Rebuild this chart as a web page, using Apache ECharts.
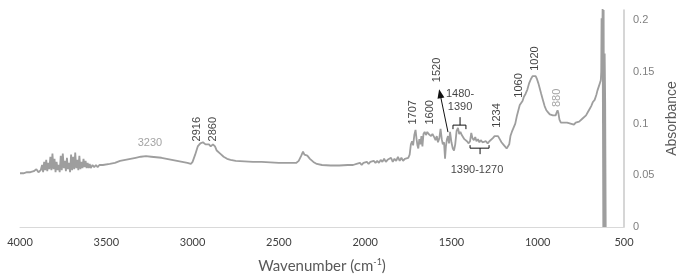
<!DOCTYPE html>
<html>
<head>
<meta charset="utf-8">
<script src="https://cdn.jsdelivr.net/npm/echarts@6/dist/echarts.min.js"></script>
<style>
  html, body { margin: 0; padding: 0; background: #fff; }
  #chart { width: 679px; height: 275px; }
</style>
</head>
<body>
<div id="chart"></div>
<script>
const wavenumbers = [
  4000, 3980, 3960, 3940, 3920, 3905, 3893, 3880, 3872, 3866, 3860, 3854, 3848, 3842, 3836, 3830,
  3824, 3818, 3812, 3806, 3800, 3794, 3788, 3782, 3776, 3770, 3764, 3758, 3752, 3746, 3740, 3734,
  3728, 3722, 3716, 3710, 3704, 3698, 3692, 3686, 3680, 3674, 3668, 3662, 3656, 3650, 3644, 3638,
  3632, 3626, 3620, 3614, 3608, 3602, 3596, 3590, 3580, 3570, 3560, 3550, 3540, 3530, 3520, 3510,
  3480, 3450, 3420, 3390, 3360, 3330, 3300, 3270, 3240, 3210, 3180, 3150, 3120, 3090, 3060, 3030,
  3010, 3000, 2985, 2970, 2955, 2940, 2925, 2916, 2905, 2895, 2882, 2870, 2860, 2840, 2820, 2800,
  2780, 2750, 2700, 2650, 2600, 2550, 2500, 2450, 2400, 2385, 2370, 2360, 2352, 2345, 2335, 2320,
  2300, 2280, 2250, 2200, 2150, 2100, 2070, 2050, 2040, 2030, 2020, 2010, 2000, 1990, 1980, 1970,
  1960, 1950, 1940, 1930, 1920, 1910, 1900, 1890, 1880, 1870, 1860, 1850, 1840, 1830, 1820, 1810,
  1800, 1790, 1780, 1770, 1760, 1750, 1742, 1735, 1728, 1722, 1715, 1708, 1702, 1697, 1692, 1686,
  1680, 1674, 1668, 1662, 1655, 1648, 1640, 1632, 1625, 1618, 1610, 1600, 1592, 1585, 1578, 1570,
  1563, 1556, 1550, 1543, 1537, 1532, 1526, 1520, 1514, 1508, 1500, 1492, 1485, 1478, 1470, 1462,
  1455, 1448, 1440, 1432, 1425, 1418, 1410, 1400, 1392, 1385, 1378, 1370, 1362, 1355, 1346, 1338,
  1330, 1320, 1310, 1300, 1290, 1280, 1270, 1260, 1250, 1240, 1230, 1220, 1210, 1200, 1190, 1180,
  1172, 1165, 1158, 1150, 1140, 1130, 1120, 1112, 1104, 1096, 1088, 1080, 1070, 1060, 1050, 1040,
  1030, 1020, 1012, 1004, 996, 988, 980, 970, 960, 950, 940, 930, 920, 912, 904, 896,
  890, 885, 880, 874, 866, 858, 850, 840, 830, 820, 810, 800, 790, 780, 770, 760,
  750, 740, 730, 720, 710, 700, 690, 680, 670, 660, 654, 648, 642, 636, 634, 632,
  630, 627, 624, 622, 620, 618, 615, 612, 609, 606
];

const absorbance = [
  0.052, 0.052, 0.053, 0.053, 0.054, 0.056, 0.053, 0.055, 0.060, 0.053, 0.063, 0.055, 0.065, 0.054, 0.062, 0.056,
  0.068, 0.055, 0.071, 0.056, 0.066, 0.053, 0.063, 0.055, 0.060, 0.053, 0.069, 0.055, 0.071, 0.057, 0.064, 0.054,
  0.067, 0.056, 0.062, 0.053, 0.070, 0.055, 0.068, 0.056, 0.072, 0.057, 0.065, 0.055, 0.069, 0.056, 0.063, 0.057,
  0.066, 0.058, 0.064, 0.057, 0.062, 0.057, 0.061, 0.057, 0.060, 0.058, 0.060, 0.058, 0.060, 0.059, 0.060, 0.060,
  0.061, 0.062, 0.064, 0.065, 0.066, 0.067, 0.068, 0.0685, 0.068, 0.0675, 0.067, 0.066, 0.065, 0.064, 0.063, 0.062,
  0.061, 0.063, 0.070, 0.078, 0.081, 0.082, 0.080, 0.079, 0.080, 0.078, 0.080, 0.078, 0.074, 0.071, 0.068, 0.066,
  0.065, 0.064, 0.0635, 0.063, 0.063, 0.0625, 0.062, 0.062, 0.062, 0.064, 0.069, 0.073, 0.070, 0.071, 0.069, 0.066,
  0.063, 0.061, 0.060, 0.0595, 0.0595, 0.060, 0.060, 0.061, 0.060, 0.062, 0.060, 0.062, 0.061, 0.063, 0.061, 0.063,
  0.062, 0.064, 0.062, 0.064, 0.062, 0.065, 0.063, 0.066, 0.063, 0.065, 0.064, 0.067, 0.063, 0.066, 0.064, 0.068,
  0.064, 0.067, 0.064, 0.066, 0.065, 0.067, 0.070, 0.080, 0.083, 0.079, 0.089, 0.094, 0.085, 0.079, 0.076, 0.085,
  0.080, 0.088, 0.078, 0.090, 0.092, 0.089, 0.092, 0.090, 0.091, 0.088, 0.090, 0.087, 0.084, 0.088, 0.082, 0.086,
  0.095, 0.085, 0.080, 0.082, 0.066, 0.078, 0.085, 0.088, 0.081, 0.092, 0.082, 0.076, 0.074, 0.080, 0.093, 0.096,
  0.090, 0.092, 0.089, 0.088, 0.085, 0.086, 0.083, 0.081, 0.083, 0.091, 0.086, 0.084, 0.087, 0.083, 0.085, 0.082,
  0.084, 0.082, 0.081, 0.083, 0.081, 0.083, 0.084, 0.086, 0.088, 0.087, 0.088, 0.085, 0.082, 0.080, 0.078, 0.076,
  0.076, 0.080, 0.088, 0.092, 0.093, 0.100, 0.108, 0.113, 0.118, 0.119, 0.122, 0.126, 0.129, 0.133, 0.139, 0.143,
  0.146, 0.147, 0.146, 0.143, 0.139, 0.134, 0.129, 0.123, 0.117, 0.113, 0.111, 0.109, 0.110, 0.108, 0.107, 0.108,
  0.111, 0.113, 0.110, 0.104, 0.101, 0.100, 0.101, 0.102, 0.101, 0.100, 0.100, 0.099, 0.099, 0.101, 0.100, 0.102,
  0.103, 0.105, 0.105, 0.108, 0.111, 0.114, 0.117, 0.121, 0.123, 0.128, 0.132, 0.133, 0.138, 0.141, 0.143, 0.150,
  0.202, 0.160, 0.212, 0.100, 0.000, 0.210, 0.000, 0.168, 0.120, 0.000
];

// peak labels: text, position in data space (wavenumber, absorbance), rotation, gray or black
const peakText   = ['3230', '2916', '2860', '1707', '1600', '1520', '1234', '1060', '1020', '880', '1480-\n1390', '1390-1270'];
const peakWave   = [3247, 2974, 2882, 1723, 1624, 1584, 1236, 1108, 1016, 888, 1450, 1352];
const peakAbs    = [0.081, 0.0947, 0.0947, 0.111, 0.111, 0.152, 0.108, 0.137, 0.163, 0.125, 0.122, 0.055];
const peakRotate = [0, 90, 90, 90, 90, 90, 90, 90, 90, 90, 0, 0];
const peakGray   = [true, false, false, false, false, false, false, false, false, true, false, false];

// brackets over 1480-1390 and under 1390-1270
const bracketPaths = [
  [[1491, 0.0947], [1491, 0.0986], [1416, 0.0986], [1416, 0.0947]],
  [[1450, 0.0986], [1450, 0.1063]],
  [[1392, 0.0792], [1392, 0.0763], [1282, 0.0763], [1282, 0.0792]],
  [[1334, 0.0763], [1334, 0.0705]]
];
// arrow pointing to 1520 label
const arrowFrom = [1520, 0.0918];
const arrowTo = [1566, 0.129];

const chart = echarts.init(document.getElementById('chart'));

const spectrum = wavenumbers.map((w, i) => [w, absorbance[i]]);
const peaks = peakText.map((t, i) => ({
  value: [peakWave[i], peakAbs[i]],
  name: t,
  label: {
    rotate: peakRotate[i],
    color: peakGray[i] ? '#8c8c8c' : '#111'
  }
}));

chart.setOption({
  animation: false,
  grid: {
    left: 20,
    right: 55,
    top: 10,
    bottom: 48,
    containLabel: false,
    outerBoundsMode: 'none'
  },
  xAxis: {
    type: 'value',
    inverse: true,
    min: 500,
    max: 4000,
    interval: 500,
    name: 'Wavenumber (cm{sup|-1})',
    nameLocation: 'middle',
    nameGap: 31,
    nameTextStyle: {
      fontFamily: 'Lato',
      fontSize: 15,
      color: '#595959',
      rich: {
        sup: { fontFamily: 'Lato', fontSize: 9, color: '#595959', verticalAlign: 'top', padding: [0, 0, 7, 0] }
      }
    },
    axisLine: { show: true, lineStyle: { color: '#d9d9d9', width: 1 } },
    axisTick: { show: false },
    splitLine: { show: false },
    axisLabel: {
      fontFamily: 'Lato',
      fontSize: 11,
      color: '#404040',
      margin: 10,
      formatter: v => String(v)
    }
  },
  yAxis: {
    type: 'value',
    position: 'right',
    min: 0,
    max: 0.21,
    interval: 0.05,
    name: 'Absorbance',
    nameLocation: 'middle',
    nameGap: 40,
    nameRotate: 90,
    nameTextStyle: {
      fontFamily: 'Liberation Sans',
      fontSize: 14,
      color: '#595959'
    },
    axisLine: { show: true, lineStyle: { color: '#c8c8c8', width: 1.5 } },
    axisTick: { show: false },
    splitLine: { show: false },
    axisLabel: {
      fontFamily: 'Liberation Sans',
      fontSize: 11,
      color: '#808080',
      margin: 9,
      showMaxLabel: false
    }
  },
  series: [
    {
      name: 'spectrum',
      type: 'line',
      data: spectrum,
      symbol: 'none',
      lineStyle: { color: '#9e9e9e', width: 1.8 },
      markLine: {
        silent: true,
        symbol: ['none', 'triangle'],
        symbolSize: [7, 9],
        lineStyle: { color: '#111', width: 1, type: 'solid' },
        label: { show: false },
        data: [[{ coord: arrowFrom }, { coord: arrowTo }]]
      }
    },
    {
      name: 'brackets',
      type: 'lines',
      coordinateSystem: 'cartesian2d',
      polyline: true,
      silent: true,
      lineStyle: { color: '#111', width: 1, opacity: 1 },
      data: bracketPaths.map(p => ({ coords: p }))
    },
    {
      name: 'peaks',
      type: 'scatter',
      symbolSize: 0,
      silent: true,
      data: peaks,
      label: {
        show: true,
        position: 'inside',
        formatter: p => p.name,
        fontFamily: 'Liberation Sans',
        fontSize: 11,
        lineHeight: 13,
        align: 'center',
        verticalAlign: 'middle'
      }
    }
  ]
});
</script>
</body>
</html>
